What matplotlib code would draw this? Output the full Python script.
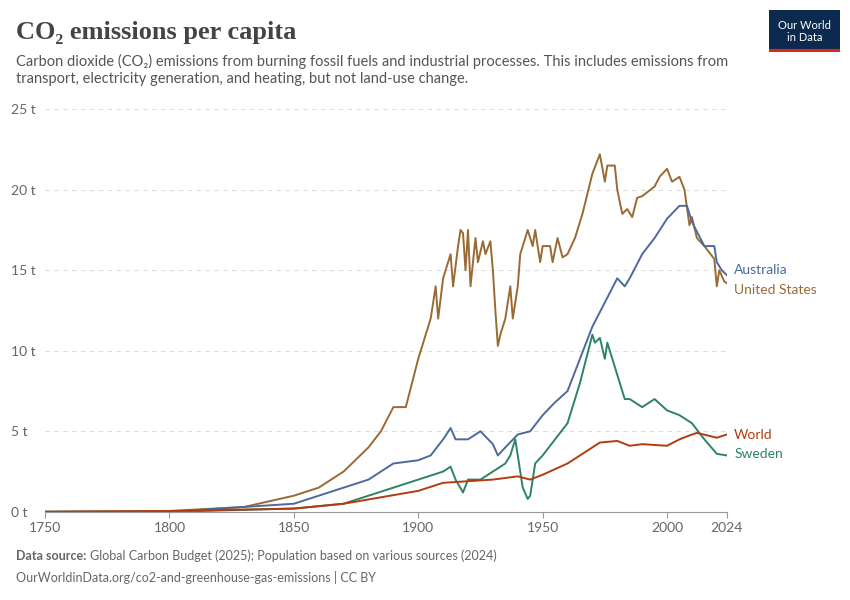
import matplotlib
matplotlib.use("Agg")
import matplotlib.pyplot as plt

us_years = [1750, 1800, 1830, 1850, 1860, 1870, 1880, 1885, 1890, 1895, 1900, 1905, 1907, 1908, 1910,
            1913, 1914, 1916, 1917, 1918, 1919, 1920, 1921, 1923, 1924, 1926, 1927, 1929, 1930, 1931,
            1932, 1933, 1935, 1937, 1938, 1940, 1941, 1944, 1946, 1947, 1949, 1950, 1953, 1954, 1956,
            1958, 1960, 1963, 1966, 1970, 1973, 1975, 1976, 1979, 1980, 1982, 1984, 1986, 1988, 1990,
            1995, 1997, 2000, 2002, 2005, 2007, 2009, 2010, 2012, 2015, 2019, 2020, 2021, 2023, 2024]
us_vals = [0, 0.05, 0.3, 1.0, 1.5, 2.5, 4.0, 5.0, 6.5, 6.5, 9.5, 12, 14, 12, 14.5,
           16, 14, 16.5, 17.5, 17.3, 15, 17.5, 14, 17, 15.5, 16.8, 16, 16.8, 15, 12.5,
           10.3, 11, 12, 14, 12, 14, 16, 17.5, 16.5, 17.5, 15.5, 16.5, 16.5, 15.5, 17,
           15.8, 16, 17, 18.5, 21, 22.2, 20.5, 21.5, 21.5, 20, 18.5, 18.8, 18.3, 19.5, 19.6,
           20.2, 20.8, 21.3, 20.5, 20.8, 20, 17.8, 18.3, 17, 16.5, 15.7, 14, 15, 14.3, 14.2]

au_years = [1750, 1800, 1850, 1860, 1870, 1880, 1890, 1900, 1905, 1910, 1913, 1915, 1920, 1925, 1930,
            1932, 1935, 1940, 1945, 1950, 1955, 1960, 1965, 1970, 1975, 1980, 1983, 1985, 1990, 1995,
            2000, 2005, 2008, 2010, 2015, 2019, 2020, 2022, 2024]
au_vals = [0, 0, 0.5, 1.0, 1.5, 2, 3, 3.2, 3.5, 4.5, 5.2, 4.5, 4.5, 5, 4.2,
           3.5, 4, 4.8, 5, 6, 6.8, 7.5, 9.5, 11.5, 13, 14.5, 14, 14.5, 16, 17,
           18.2, 19, 19, 18, 16.5, 16.5, 15.5, 15, 14.7]

se_years = [1750, 1800, 1850, 1870, 1880, 1890, 1900, 1910, 1913, 1915, 1918, 1920, 1925, 1930, 1935,
            1937, 1939, 1940, 1942, 1944, 1945, 1947, 1950, 1955, 1960, 1965, 1970, 1971, 1973, 1975,
            1976, 1979, 1980, 1983, 1985, 1990, 1995, 2000, 2005, 2010, 2015, 2020, 2024]
se_vals = [0, 0, 0.2, 0.5, 1.0, 1.5, 2.0, 2.5, 2.8, 2.0, 1.2, 2, 2, 2.5, 3,
           3.5, 4.5, 3.5, 1.5, 0.8, 1.0, 3, 3.5, 4.5, 5.5, 8, 11, 10.5, 10.8, 9.5,
           10.5, 9, 8.5, 7, 7, 6.5, 7, 6.3, 6, 5.5, 4.5, 3.6, 3.5]

wo_years = [1750, 1800, 1850, 1870, 1900, 1910, 1920, 1930, 1940, 1945, 1950, 1960, 1970, 1973, 1980,
            1985, 1990, 2000, 2005, 2010, 2012, 2020, 2022, 2024]
wo_vals = [0, 0.05, 0.2, 0.5, 1.3, 1.8, 1.9, 2.0, 2.2, 2.0, 2.3, 3.0, 4.0, 4.3, 4.4,
           4.1, 4.2, 4.1, 4.5, 4.8, 4.9, 4.6, 4.7, 4.8]

series = [
    ("United States", us_years, us_vals, "#9a6a35", 13.8),
    ("Australia", au_years, au_vals, "#4c6a9c", 15.0),
    ("Sweden", se_years, se_vals, "#2c8465", 3.6),
    ("World", wo_years, wo_vals, "#b23c0e", 4.8),
]

plt.rcParams['font.family'] = ['Lato', 'DejaVu Sans']
fig = plt.figure(figsize=(8.5, 6), dpi=100)
ax = fig.add_axes([0.053, 0.147, 0.802, 0.671])

for name, xs, ys, col, ly in series:
    ax.plot(xs, ys, color=col, lw=1.4)
    ax.text(2027, ly, name, color=col, fontsize=10, va='center')

ax.set_xlim(1750, 2024)
ax.set_ylim(0, 25)
ax.set_xticks([1750, 1800, 1850, 1900, 1950, 2000, 2024])
ax.set_yticks([0, 5, 10, 15, 20, 25])
ax.set_yticklabels([f"{v} t" for v in [0, 5, 10, 15, 20, 25]])
ax.tick_params(axis='y', length=0, labelsize=10, colors='#666666', pad=-5)
ax.tick_params(axis='x', labelsize=10, colors='#666666', length=4, color='#999999')
for lbl in ax.get_yticklabels():
    lbl.set_horizontalalignment('left')
    lbl.set_position((-0.06, 0))
ax.grid(axis='y', ls=(0, (4, 4)), color='#dddddd')
for s in ['top', 'right', 'left']:
    ax.spines[s].set_visible(False)
ax.spines['bottom'].set_color('#999999')
ax.set_axisbelow(True)

fig.text(0.019, 0.945, "CO₂ emissions per capita", fontsize=19, family=['Liberation Serif', 'DejaVu Serif'],
         color='#444444', va='center', weight='bold')
fig.text(0.019, 0.883, "Carbon dioxide (CO₂) emissions from burning fossil fuels and industrial processes. This includes emissions from\ntransport, electricity generation, and heating, but not land-use change.",
         fontsize=10.5, color='#555555', va='center', linespacing=1.3)
fig.text(0.019, 0.073, "Data source:", fontsize=9, color='#666666', va='center', weight='bold')
fig.text(0.106, 0.073, "Global Carbon Budget (2025); Population based on various sources (2024)",
         fontsize=9, color='#666666', va='center')
fig.text(0.019, 0.038, "OurWorldinData.org/co2-and-greenhouse-gas-emissions | CC BY",
         fontsize=9, color='#666666', va='center')

logo = fig.add_axes([0.905, 0.913, 0.083, 0.07])
logo.set_facecolor('#0c2a4d')
logo.set_xticks([]); logo.set_yticks([])
for s in logo.spines.values():
    s.set_visible(False)
logo.axhline(0.03, color='#d42b21', lw=3)
logo.text(0.5, 0.5, "Our World\nin Data", color='white', fontsize=8, ha='center', va='center',
          transform=logo.transAxes, linespacing=1.1)

fig.savefig("out.png", dpi=100)
